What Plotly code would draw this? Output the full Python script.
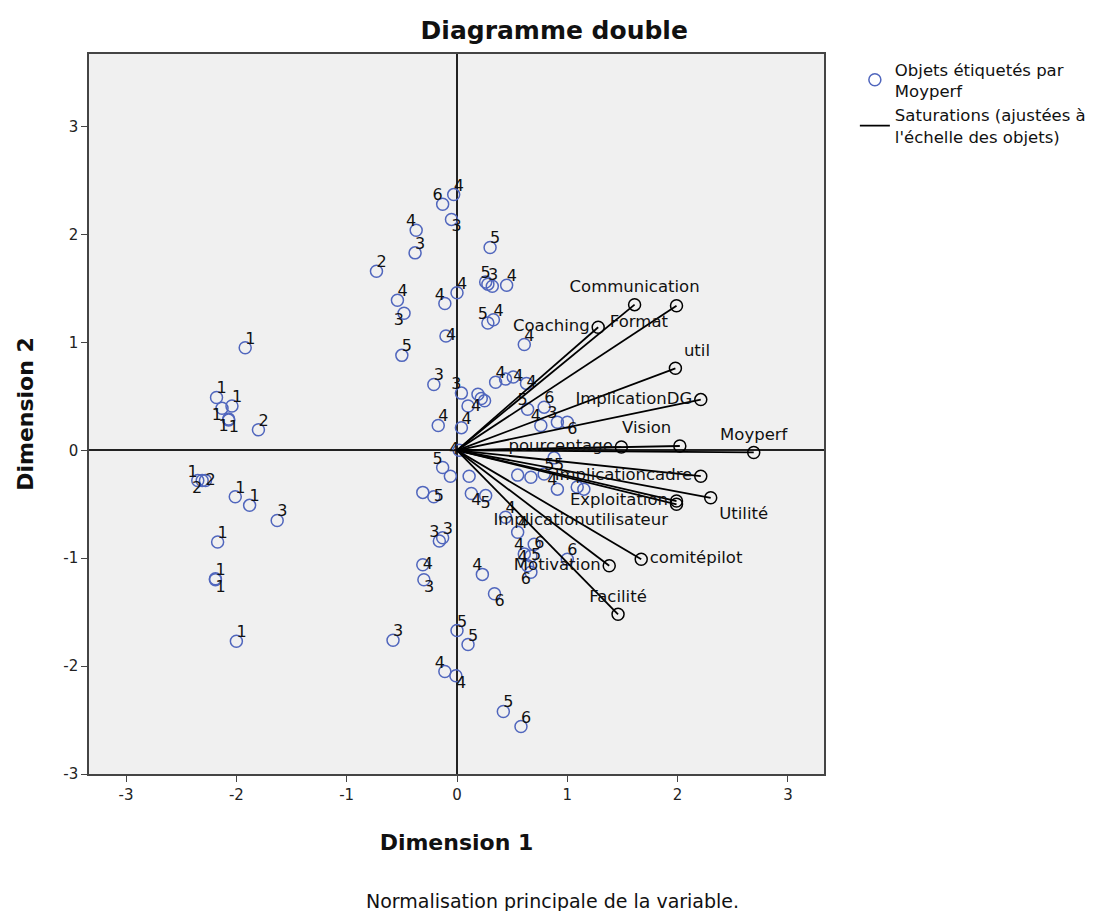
import plotly.graph_objects as go

# ---------------- data ----------------
obj_x = [-1.92, -2.18, -2.13, -2.04, -2.07, -2.07, -1.80, -2.35, -2.28, -2.31, -2.01, -1.88, -1.63,
         -2.17, -2.19, -2.19, -2.00,
         -0.13, -0.03, -0.05, -0.37, -0.38, -0.73, -0.54, -0.48, -0.11, -0.50, -0.10, 0.00, -0.21,
         -0.17, 0.30, 0.26, 0.28, 0.32, 0.45, 0.28, 0.33, 0.61,
         0.04, 0.10, 0.19, 0.22, 0.25, 0.35, 0.44, 0.51, 0.63, 0.64, 0.79, 0.04, 0.76, 0.91, 1.00, 0.02,
         -0.13, -0.06, -0.31, -0.21, 0.11, 0.13, 0.26, 0.44, 0.55, 0.70, 0.61, 0.67, 0.64, 0.67,
         -0.16, -0.13, -0.31, -0.30, 0.23, 0.34, 0.55, 0.67, 0.79, 0.91, 1.09, 1.15, 1.00, 0.88,
         0.00, 0.10, -0.58, -0.11, -0.01, 0.42, 0.58]
obj_y = [0.95, 0.49, 0.39, 0.41, 0.28, 0.29, 0.19, -0.28, -0.28, -0.28, -0.43, -0.51, -0.65,
         -0.85, -1.19, -1.20, -1.77,
         2.28, 2.37, 2.14, 2.04, 1.83, 1.66, 1.39, 1.27, 1.36, 0.88, 1.06, 1.46, 0.61,
         0.23, 1.88, 1.56, 1.54, 1.52, 1.53, 1.18, 1.21, 0.98,
         0.53, 0.41, 0.52, 0.48, 0.46, 0.63, 0.66, 0.68, 0.62, 0.38, 0.40, 0.21, 0.23, 0.26, 0.26, 0.00,
         -0.16, -0.24, -0.39, -0.43, -0.24, -0.40, -0.42, -0.62, -0.76, -0.87, -0.96, -0.98, -1.07, -1.13,
         -0.84, -0.81, -1.06, -1.20, -1.15, -1.33, -0.23, -0.25, -0.22, -0.36, -0.34, -0.36, -1.01, -0.07,
         -1.67, -1.80, -1.76, -2.05, -2.09, -2.42, -2.56]
obj_label = ["1", "1", "1", "1", "1", "1", "2", "1", "2", "2", "1", "1", "3",
             "1", "1", "1", "1",
             "6", "4", "3", "4", "3", "2", "4", "3", "4", "5", "4", "4", "3",
             "4", "5", "5", "3", "", "4", "5", "4", "4",
             "3", "", "", "4", "", "4", "", "4", "4", "5", "6", "4", "4", "3", "6", "4",
             "5", "", "", "5", "", "4", "5", "4", "4", "6", "4", "5", "4", "6",
             "3", "3", "4", "3", "4", "6", "", "", "5", "4", "", "", "6", "5",
             "5", "5", "3", "4", "4", "5", "6"]

load_names = ["Communication", "Format", "Coaching", "util", "ImplicationDG", "Vision", "pourcentage",
              "Moyperf", "Implicationcadre", "Exploitation", "Implicationutilisateur", "Utilité",
              "comitépilot", "Motivation", "Facilité"]
load_x = [1.61, 1.99, 1.28, 1.98, 2.21, 2.02, 1.49, 2.69, 2.21, 1.99, 1.99, 2.30, 1.67, 1.38, 1.46]
load_y = [1.35, 1.34, 1.14, 0.76, 0.47, 0.04, 0.03, -0.02, -0.24, -0.47, -0.50, -0.44, -1.01, -1.07, -1.52]

x_ticks = [-3, -2, -1, 0, 1, 2, 3]
y_ticks = [-3, -2, -1, 0, 1, 2, 3]

# ---------------- styling (label placement) ----------------
obj_pos = ["top right", "top right", "bottom left", "top right", "bottom right", "bottom left", "top right",
           "top left", "middle right", "bottom left", "top right", "top right", "top right",
           "top right", "top right", "bottom right", "top right",
           "top left", "top right", "bottom right", "top left", "top right", "top right", "top right",
           "bottom left", "top left", "top right", "middle right", "top right", "top right",
           "top right", "top right", "top center", "top right", "top right", "top right", "top left",
           "top right", "top right",
           "top left", "top left", "top right", "bottom left", "top right", "top right", "top right",
           "middle right", "middle right", "top left", "top right", "top right", "top left", "top left",
           "bottom right", "middle left",
           "top left", "top right", "top right", "middle right", "top left", "bottom right", "bottom center",
           "top right", "top right", "middle right", "top left", "middle right", "top left", "bottom left",
           "top left", "top right", "middle right", "bottom right", "top left", "bottom right", "top right",
           "top right", "top right", "top left", "top right", "top right", "top right", "bottom right",
           "top right", "top right", "top right", "top left", "bottom right", "top right", "top right"]
load_pos = ["top center", "bottom left", "middle left", "top right", "middle left", "top left",
            "middle left", "top center", "middle left", "middle left", "bottom left", "bottom right",
            "middle right", "middle left", "top center"]

FONT = "DejaVu Sans, Liberation Sans, Arial, sans-serif"
BLUE = "#5066bd"

fig = go.Figure()

# loading vectors
lx, ly = [], []
for x, y in zip(load_x, load_y):
    lx += [0, x, None]
    ly += [0, y, None]

fig.add_trace(go.Scatter(x=obj_x, y=obj_y, mode="markers",
                         marker=dict(symbol="circle-open", size=12, color=BLUE, line=dict(width=1.5)),
                         name="Objets étiquetés par<br>Moyperf", showlegend=True, hoverinfo="skip"))
fig.add_trace(go.Scatter(x=obj_x, y=obj_y, mode="text", text=obj_label, textposition=obj_pos,
                         textfont=dict(family=FONT, size=16, color="#111"),
                         showlegend=False, hoverinfo="skip"))
fig.add_trace(go.Scatter(x=lx, y=ly, mode="lines", line=dict(color="black", width=1.8),
                         name="Saturations (ajustées à<br>l'échelle des objets)", hoverinfo="skip"))
fig.add_trace(go.Scatter(x=load_x, y=load_y, mode="markers+text", text=load_names, textposition=load_pos,
                         marker=dict(symbol="circle-open", size=12, color="black", line=dict(width=1.5)),
                         textfont=dict(family=FONT, size=16.5, color="#111"), cliponaxis=False,
                         showlegend=False, hoverinfo="skip"))

axis_common = dict(showgrid=False, zeroline=True, zerolinecolor="#222", zerolinewidth=1.5,
                   showline=True, linecolor="#444", linewidth=1.5, mirror=True,
                   ticks="outside", ticklen=6, tickcolor="#444", tickwidth=1.3, automargin=False,
                   tickfont=dict(family=FONT, size=15, color="#222"))

fig.update_layout(
    width=1108, height=903,
    margin=dict(l=81, r=292, t=46, b=137),
    paper_bgcolor="white", plot_bgcolor="#f0f0f0",
    font=dict(family=FONT, size=14, color="#111"),
    title=dict(text="<b>Diagramme double</b>", x=0.493, xanchor="center", y=0.975, yanchor="middle",
               font=dict(family=FONT, size=25, color="#111")),
    xaxis=dict(range=[-3.336, 3.327], tickvals=x_ticks, ticktext=[str(v) for v in x_ticks],
               title=dict(text="<b>Dimension 1</b>", font=dict(family=FONT, size=22, color="#111"), standoff=32),
               **axis_common),
    yaxis=dict(range=[-3.0, 3.673], tickvals=y_ticks, ticktext=[str(v) for v in y_ticks],
               title=dict(text="<b>Dimension 2</b>", font=dict(family=FONT, size=22, color="#111"), standoff=24),
               **axis_common),
    legend=dict(x=1.042, y=1.003, xanchor="left", yanchor="top", bgcolor="rgba(0,0,0,0)",
                font=dict(family=FONT, size=16.5, color="#111"), tracegroupgap=0, itemwidth=30),
    showlegend=True,
)

fig.add_annotation(text="Normalisation principale de la variable.", xref="paper", yref="paper",
                   x=0.631, y=-0.158, xanchor="center", yanchor="top", showarrow=False,
                   font=dict(family=FONT, size=19, color="#111"))

fig.write_html("out.html")
